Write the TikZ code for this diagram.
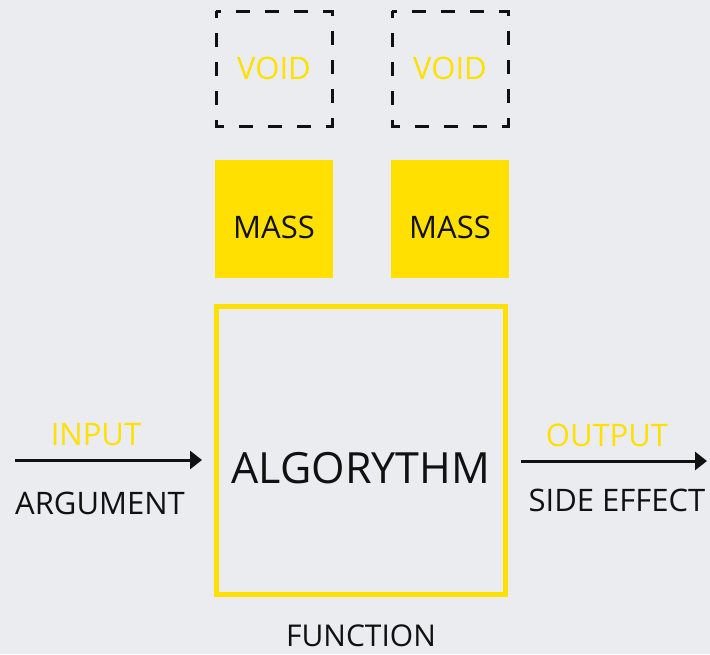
\documentclass[tikz,border=0pt]{standalone}
\usepackage{fontspec}
\setmainfont{Open Sans}
\usetikzlibrary{arrows.meta}
\definecolor{bgcol}{HTML}{EBECF0}
\definecolor{yel}{HTML}{FFE000}
\definecolor{ink}{HTML}{111111}
\tikzset{
  voidbox/.style={draw=ink, line width=3pt, dash pattern=on 14pt off 15pt, dash phase=7pt},
  massbox/.style={fill=yel, draw=none},
  lbl/.style={inner sep=0pt, font=\fontsize{31}{36}\selectfont},
  ylbl/.style={lbl, text=yel},
  klbl/.style={lbl, text=ink},
  flow/.style={draw=ink, line width=3pt, -{Triangle[length=12pt,width=18pt]}},
}
\begin{document}
\begin{tikzpicture}[x=1pt, y=-1pt]
  \fill[bgcol] (0,0) rectangle (710,654);
  \useasboundingbox (0,0) rectangle (710,654);

  % empty slots
  \draw[voidbox] (216,11) rectangle (332,126);
  \draw[voidbox] (392,11) rectangle (508,126);
  \node[ylbl] (void1) at (274,68) {VOID};
  \node[ylbl] (void2) at (450,68) {VOID};

  % mass blocks
  \fill[massbox] (215,160) rectangle (333,278);
  \fill[massbox] (391,160) rectangle (509,278);
  \node[klbl] (mass1) at (274,227) {MASS};
  \node[klbl] (mass2) at (450,227) {MASS};

  % function body
  \draw[yel, line width=5pt] (216.5,306.5) rectangle (505.5,594);
  \node[inner sep=0pt, text=ink, font=\fontsize{43}{50}\selectfont] (algo) at (361,468) {ALGORYTHM};
  \node[klbl, font=\fontsize{30}{34}\selectfont] (func) at (361,636) {FUNCTION};

  % input side
  \coordinate (inA) at (15,460);
  \coordinate (inB) at (202,460);
  \draw[flow] (inA) -- (inB);
  \node[ylbl] (inp) at (96,435) {INPUT};
  \node[klbl] (arg) at (100,503) {ARGUMENT};

  % output side
  \coordinate (outA) at (521,461);
  \coordinate (outB) at (707,461);
  \draw[flow] (outA) -- (outB);
  \node[ylbl] (outp) at (607,435) {OUTPUT};
  \node[klbl] (side) at (617,500) {SIDE EFFECT};
\end{tikzpicture}
\end{document}
